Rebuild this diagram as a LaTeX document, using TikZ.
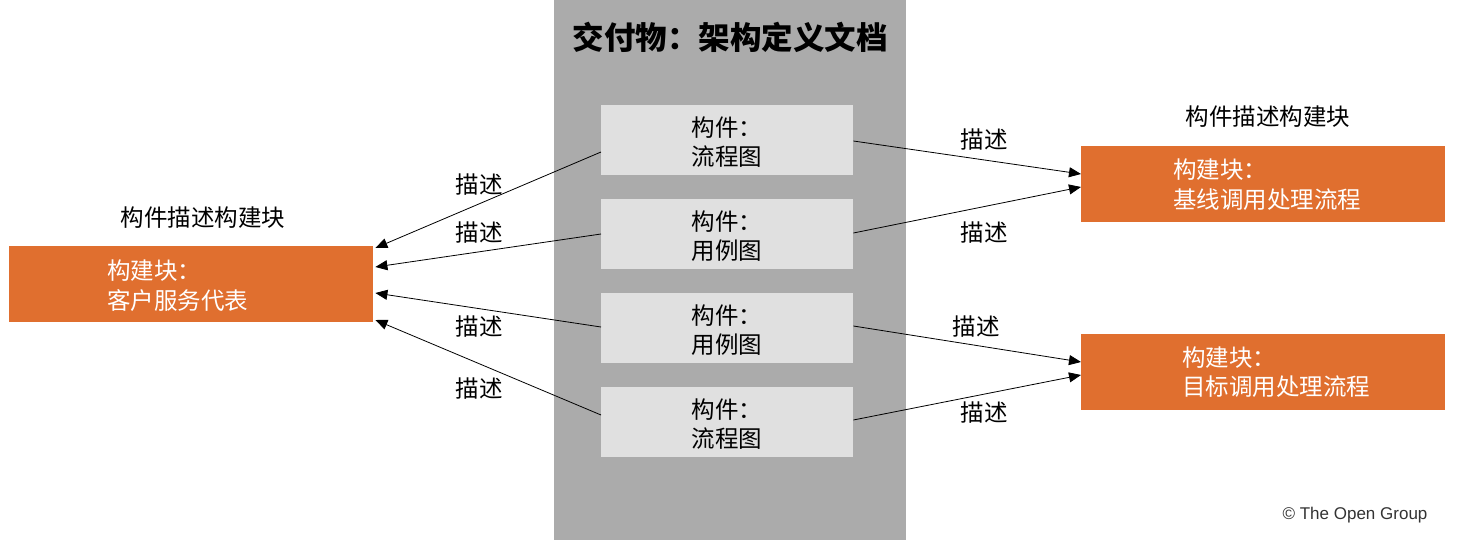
\documentclass[tikz,border=0pt]{standalone}
\usepackage{fontspec}
\setmainfont{Noto Sans CJK SC}
\newfontfamily\copyfont{Liberation Sans}
\usetikzlibrary{arrows.meta,positioning}
\definecolor{colgray}{HTML}{ABABAB}
\definecolor{boxgray}{HTML}{E0E0E0}
\definecolor{orangebb}{HTML}{E06F2F}
\tikzset{
  art/.style={fill=boxgray,draw=none,minimum width=252pt,minimum height=70pt,inner sep=0pt,anchor=north west},
  arttext/.style={align=center,font=\fontsize{23.5}{29.5}\selectfont,inner sep=0pt},
  bb/.style={fill=orangebb,draw=none,minimum width=364pt,minimum height=76pt,inner sep=0pt,anchor=north west},
  bbtext/.style={text=white,align=left,font=\fontsize{23.5}{29.5}\selectfont,inner sep=0pt,anchor=west},
  lbl/.style={font=\fontsize{23.5}{28}\selectfont,inner sep=0pt},
  conn/.style={draw=black,line width=0.8pt,-{Triangle[length=12pt,width=10pt]}}
}
\begin{document}
\begin{tikzpicture}[x=1pt,y=-1pt]
\useasboundingbox (0,0) rectangle (1459,540);
\fill[white] (0,0) rectangle (1459,540);
\fill[colgray] (554,0) rectangle (906,540);
\node[font=\bfseries\fontsize{31.5}{34}\selectfont,inner sep=0pt] (title) at (730,37) {交付物：架构定义文档};
% artifacts
\node[art] (a1) at (601,105) {};
\node[art] (a2) at (601,199) {};
\node[art] (a3) at (601,293) {};
\node[art] (a4) at (601,387) {};
\node[arttext] (a1t) at ([yshift=-2pt]a1.center) {构件：\\流程图};
\node[arttext] (a2t) at ([yshift=-2pt]a2.center) {构件：\\用例图};
\node[arttext] (a3t) at ([yshift=-2pt]a3.center) {构件：\\用例图};
\node[arttext] (a4t) at ([yshift=-2pt]a4.center) {构件：\\流程图};
% building blocks
\node[bb] (L) at (9,246) {};
\node[bbtext] (Lt) at (107,285.5) {构建块：\\客户服务代表};
\node[lbl] (Llbl) at (203,218) {构件描述构建块};
\node[bb] (R1) at (1081,146) {};
\node[bbtext] (R1t) at (1173,184.5) {构建块：\\基线调用处理流程};
\node[lbl] (R1lbl) at (1268,117) {构件描述构建块};
\node[bb] (R2) at (1081,334) {};
\node[bbtext] (R2t) at (1182,372) {构建块：\\目标调用处理流程};
% connectors left
\draw[conn] ([yshift=-47pt]a1.north west) -- ([xshift=2pt,yshift=-2pt]L.north east);
\draw[conn] ([yshift=-35pt]a2.north west) -- ([xshift=2pt,yshift=-21pt]L.north east);
\draw[conn] ([yshift=-34pt]a3.north west) -- ([xshift=2pt,yshift=-47pt]L.north east);
\draw[conn] ([yshift=-28pt]a4.north west) -- ([xshift=2pt,yshift=-74pt]L.north east);
% connectors right
\draw[conn] ([yshift=-36pt]a1.north east) -- ([yshift=-28pt]R1.north west);
\draw[conn] ([yshift=-34pt]a2.north east) -- ([yshift=-41pt]R1.north west);
\draw[conn] ([yshift=-33pt]a3.north east) -- ([yshift=-28pt]R2.north west);
\draw[conn] ([yshift=-33pt]a4.north east) -- ([yshift=-41pt]R2.north west);
% labels
\node[lbl] (d1) at (479,185) {描述};
\node[lbl] (d2) at (479,233) {描述};
\node[lbl] (d3) at (479,327) {描述};
\node[lbl] (d4) at (479,389) {描述};
\node[lbl] (d5) at (984,140) {描述};
\node[lbl] (d6) at (984,233) {描述};
\node[lbl] (d7) at (976,327) {描述};
\node[lbl] (d8) at (984,413) {描述};
\node[font=\copyfont\fontsize{17}{19}\selectfont,text=black!80,inner sep=0pt] (copy) at (1355,515) {© The Open Group};
\end{tikzpicture}
\end{document}
